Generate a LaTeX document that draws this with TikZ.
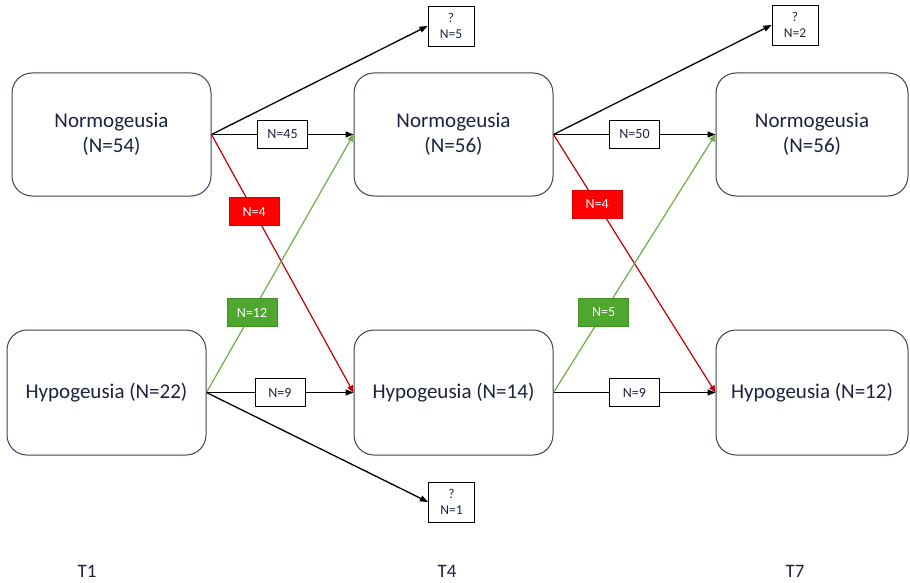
\documentclass[tikz,border=0pt]{standalone}
\usepackage{fontspec}
\setmainfont{Carlito}
\usetikzlibrary{arrows.meta}
\definecolor{boxline}{HTML}{3B4259}
\definecolor{txt}{HTML}{1C2140}
\definecolor{redline}{HTML}{C00000}
\definecolor{redfill}{HTML}{FF0000}
\definecolor{greenline}{HTML}{70AD47}
\definecolor{greenfill}{HTML}{4EA72E}
\begin{document}
\begin{tikzpicture}[x=1pt,y=-1pt,
  state/.style={draw=boxline, line width=1pt, rounded corners=20pt, minimum height=123pt,
    align=center, text=txt, font=\fontsize{21}{25}\selectfont, inner sep=0pt},
  qbox/.style={draw=black, line width=0.9pt, minimum width=46pt, minimum height=40pt,
    align=center, text=txt, font=\fontsize{13.5}{16}\selectfont, inner sep=0pt},
  lab/.style={draw=black, fill=white, line width=0.9pt, minimum width=50pt, minimum height=28pt,
    font=\fontsize{14}{16}\selectfont, inner sep=0pt, text=txt},
  redlab/.style={lab, fill=redfill, draw=redfill!85!black, text=white},
  greenlab/.style={lab, fill=greenfill, draw=greenfill!85!black, text=white},
  blk/.style={draw=black, line width=1.3pt, -{Triangle[length=8pt,width=6pt]}},
  redarr/.style={draw=redline, line width=1.2pt, -{Triangle[length=7pt,width=6pt]}},
  greenarr/.style={draw=greenline, line width=1.2pt, -{Triangle[length=7pt,width=6pt]}},
  tlab/.style={text=txt, font=\fontsize{19}{22}\selectfont, inner sep=0pt}]
\useasboundingbox (0,0) rectangle (910,583);

\node[state, minimum width=199pt] (N1) at (111.5,134.5) {Normogeusia\\(N=54)};
\node[state, minimum width=199pt, minimum height=125pt] (H1) at (106.5,392.5) {Hypogeusia (N=22)};
\node[state, minimum width=199pt] (N4) at (453.5,134.5) {Normogeusia\\(N=56)};
\node[state, minimum width=199pt, minimum height=125pt] (H4) at (453.5,392.5) {Hypogeusia (N=14)};
\node[state, minimum width=192pt] (N7) at (812,134.5) {Normogeusia\\(N=56)};
\node[state, minimum width=192pt, minimum height=125pt] (H7) at (812,392.5) {Hypogeusia (N=12)};

\node[qbox] (q1) at (451,26) {?\\N=5};
\node[qbox] (q2) at (795,25) {?\\N=2};
\node[qbox] (q3) at (451.5,502) {?\\N=1};

\draw[blk] (N1.east) -- (q1.west);
\draw[blk] (N1.east) -- node[lab]{N=45} (N4.west);
\draw[redarr] (N1.east) -- node[redlab,pos=0.3]{N=4} (H4.west);
\draw[greenarr] (H1.east) -- node[greenlab,pos=0.31]{N=12} (N4.west);
\draw[blk] (H1.east) -- node[lab]{N=9} (H4.west);
\draw[blk] (H1.east) -- (q3.west);

\draw[blk] (N4.east) -- (q2.west);
\draw[blk] (N4.east) -- node[lab]{N=50} (N7.west);
\draw[redarr] (N4.east) -- node[redlab,pos=0.27]{N=4} (H7.west);
\draw[greenarr] (H4.east) -- node[greenlab,pos=0.31]{N=5} (N7.west);
\draw[blk] (H4.east) -- node[lab]{N=9} (H7.west);

\node[tlab] (t1) at (87,571) {T1};
\node[tlab] (t4) at (447,571) {T4};
\node[tlab] (t7) at (795,571) {T7};
\end{tikzpicture}
\end{document}
